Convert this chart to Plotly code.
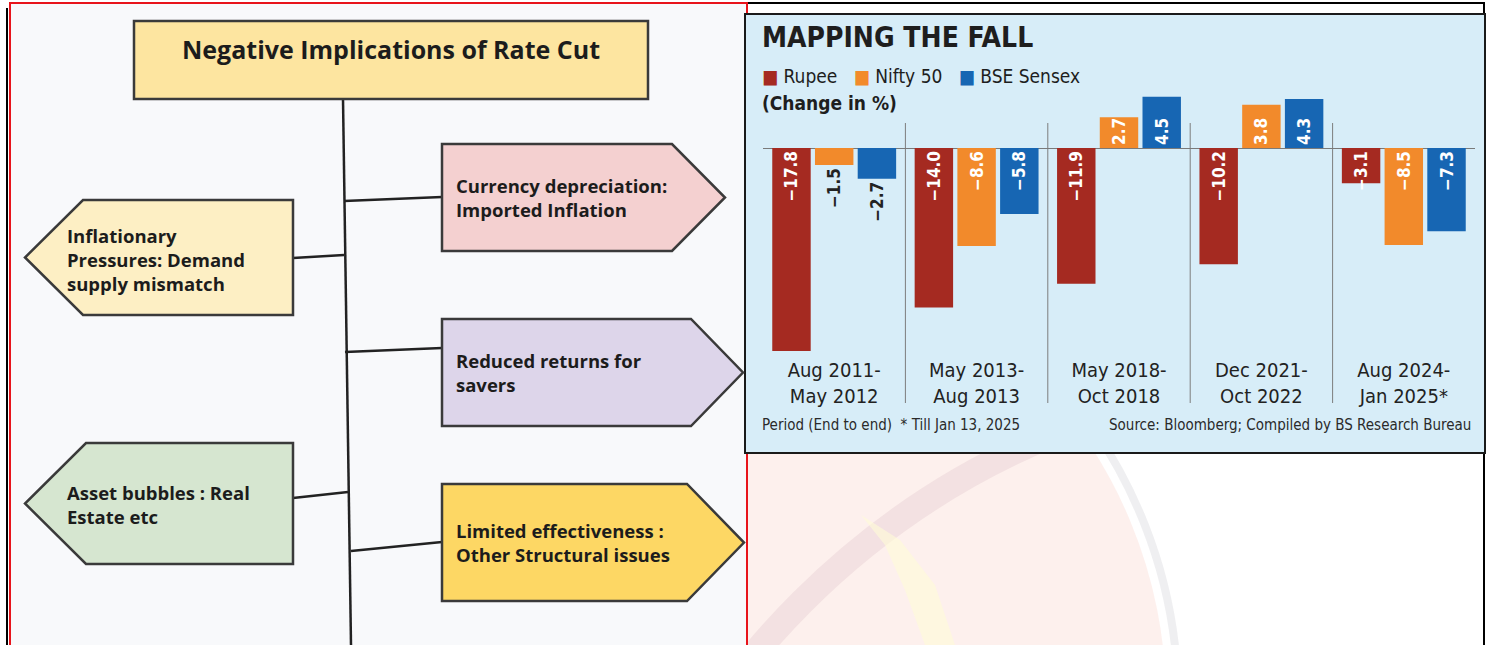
import plotly.graph_objects as go

W, H = 1492, 645

# bar chart data
periods = ["Aug 2011-<br>May 2012", "May 2013-<br>Aug 2013", "May 2018-<br>Oct 2018",
           "Dec 2021-<br>Oct 2022", "Aug 2024-<br>Jan 2025*"]
rupee = [-17.8, -14.0, -11.9, -10.2, -3.1]
nifty = [-1.5, -8.6, 2.7, 3.8, -8.5]
sensex = [-2.7, -5.8, 4.5, 4.3, -7.3]
series_names = ["Rupee", "Nifty 50", "BSE Sensex"]

chart_title = "MAPPING THE FALL"
unit_note = "(Change in %)"
footer_left = "Period (End to end)  * Till Jan 13, 2025"
source_note = "Source: Bloomberg; Compiled by BS Research Bureau"

# flowchart texts
flow_title = "Negative Implications of Rate Cut"
flow_right = ["Currency depreciation:<br>Imported Inflation",
              "Reduced returns for<br>savers",
              "Limited effectiveness :<br>Other Structural issues"]
flow_left = ["Inflationary<br>Pressures: Demand<br>supply mismatch",
             "Asset bubbles : Real<br>Estate etc"]

# styles
colors = ["#a52a21", "#f28a2b", "#1766b3"]
text_pos = [["inside"] * 5,
            ["outside", "inside", "inside", "inside", "inside"],
            ["outside", "inside", "inside", "inside", "inside"]]
NARROW = "Liberation Sans Narrow, DejaVu Sans Condensed, sans-serif"
ROUND = "Open Sans, Noto Sans, Lato, sans-serif"
right_fills = ["#f4d0d0", "#ddd5ea", "#fdd764"]
left_fills = ["#fdefc4", "#d6e6d0"]
EDGE = "#3a3a3a"


def px(x):
    return x / W


def py(y):
    return 1 - y / H


def path(pts):
    return "M " + " L ".join(f"{px(x):.5f},{py(y):.5f}" for x, y in pts) + " Z"


def circle(cx, cy, r, **kw):
    return dict(type="circle", xref="paper", yref="paper", x0=px(cx - r), x1=px(cx + r),
                y0=py(cy + r), y1=py(cy - r), layer="below", **kw)


fig = go.Figure()
for vals, name, col, tp in zip([rupee, nifty, sensex], series_names, colors, text_pos):
    fig.add_trace(go.Bar(
        x=periods, y=vals, name=name, marker_color=col, marker_line_width=0,
        text=[f"{v:.1f}".replace("-", "\u2212") for v in vals], textposition=tp, textangle=-90,
        insidetextanchor="start", constraintext="none", cliponaxis=False,
        insidetextfont=dict(family=NARROW, size=17, color="white", weight="bold"),
        outsidetextfont=dict(family=NARROW, size=17, color="#222222", weight="bold"),
        hoverinfo="x+y+name", showlegend=False))

shapes = []
# faint watermark behind the lower right area
shapes.append(dict(type="rect", xref="paper", yref="paper", x0=px(745), x1=px(1484), y0=-0.01, y1=py(3),
                   fillcolor="white", line=dict(color="black", width=2), layer="below"))
shapes.append(circle(700, 700, 478, fillcolor="rgba(255,255,255,0)", line=dict(color="rgba(235,235,238,0.8)", width=8)))
shapes.append(circle(700, 700, 466, fillcolor="rgba(240,150,130,0.14)", line=dict(width=0)))
shapes.append(circle(1350, 1150, 775, fillcolor="rgba(0,0,0,0)", line=dict(color="rgba(190,150,170,0.16)", width=26)))
shapes.append(dict(type="path", xref="paper", yref="paper",
                   path=path([(861, 515), (900, 540), (935, 585), (955, 645), (925, 645), (905, 590), (885, 545)]),
                   fillcolor="rgba(255,252,215,0.6)", line=dict(width=0), layer="below"))
shapes.append(dict(type="rect", xref="paper", yref="paper", x0=px(1485), x1=1.01, y0=-0.01, y1=1.01,
                   fillcolor="white", line=dict(width=0), layer="below"))
# left panel background and frames
shapes.append(dict(type="rect", xref="paper", yref="paper", x0=px(10), x1=px(747), y0=-0.01, y1=py(3),
                   fillcolor="#f8f9fb", line=dict(color="#e8141b", width=2), layer="below"))
shapes.append(dict(type="line", xref="paper", yref="paper", x0=px(7), x1=px(7), y0=0, y1=py(8),
                   line=dict(color="black", width=2), layer="below"))
shapes.append(dict(type="line", xref="paper", yref="paper", x0=px(1484), x1=px(1484), y0=-0.01, y1=py(3),
                   line=dict(color="black", width=2), layer="below"))
# chart panel
shapes.append(dict(type="rect", xref="paper", yref="paper", x0=px(745), x1=px(1485), y0=py(453), y1=py(14),
                   fillcolor="#d7edf8", line=dict(color="#1a1a1a", width=2), layer="below"))
# separators between periods
for k in range(1, len(periods)):
    shapes.append(dict(type="line", xref="x", yref="paper", x0=k - 0.5, x1=k - 0.5,
                       y0=py(403), y1=py(123), line=dict(color="#7d7d7d", width=1), layer="below"))

# flowchart: trunk and connectors
shapes.append(dict(type="line", xref="paper", yref="paper", x0=px(343), y0=py(99), x1=px(351), y1=0,
                   line=dict(color="#222", width=2.5)))
for (x0, y0, x1, y1) in [(344, 201, 442, 197), (293, 258, 344, 255), (345, 352, 442, 348),
                         (293, 498, 348, 492), (351, 551, 442, 542)]:
    shapes.append(dict(type="line", xref="paper", yref="paper", x0=px(x0), y0=py(y0), x1=px(x1), y1=py(y1),
                       line=dict(color="#222", width=2.5)))
# top box
shapes.append(dict(type="rect", xref="paper", yref="paper", x0=px(134), x1=px(648), y0=py(99), y1=py(21),
                   fillcolor="#fde5a0", line=dict(color=EDGE, width=2.5)))
# right arrow boxes (left, top, bottom, slant start, tip)
right_boxes = [(442, 144, 251, 672, 725), (442, 319, 426, 691, 743), (442, 484, 601, 687, 744)]
for (l, t, b, s, tip), fc in zip(right_boxes, right_fills):
    shapes.append(dict(type="path", xref="paper", yref="paper",
                       path=path([(l, t), (s, t), (tip, (t + b) / 2), (s, b), (l, b)]),
                       fillcolor=fc, line=dict(color=EDGE, width=2.5)))
# left arrow boxes (tip, top, bottom, corner, right)
left_boxes = [(25, 200, 315, 83, 293), (25, 443, 564, 86, 293)]
for (tip, t, b, c, r), fc in zip(left_boxes, left_fills):
    shapes.append(dict(type="path", xref="paper", yref="paper",
                       path=path([(r, t), (c, t), (tip, (t + b) / 2), (c, b), (r, b)]),
                       fillcolor=fc, line=dict(color=EDGE, width=2.5)))


def note(x, y, text, size, family, color="#1c1c1c", xanchor="left"):
    return dict(xref="paper", yref="paper", x=px(x), y=py(y), text=text, showarrow=False,
                xanchor=xanchor, yanchor="middle", align="left",
                font=dict(family=family, size=size, color=color))


annotations = [note(391, 49, f"<b>{flow_title}</b>", 25, ROUND, xanchor="center")]
for txt, yc in zip(flow_right, [197, 372, 542]):
    annotations.append(note(454, yc, f"<b>{txt}</b>", 18.5, ROUND))
for txt, yc in zip(flow_left, [259, 504]):
    annotations.append(note(65, yc, f"<b>{txt}</b>", 18.5, ROUND))

# chart texts
legend_txt = "   ".join(f"<span style='color:{c}'>■</span> {n}" for c, n in zip(colors, series_names))
annotations.append(note(760, 38, f"<b>{chart_title}</b>", 28, NARROW, "#1e1e1e"))
annotations.append(note(760, 76, legend_txt, 19, NARROW, "#1e1e1e"))
annotations.append(note(760, 103, f"<b>{unit_note}</b>", 19, NARROW, "#1e1e1e"))
annotations.append(note(760, 425, footer_left, 15, NARROW, "#2a2a2a"))
annotations.append(note(1473, 425, source_note, 15, NARROW, "#2a2a2a", xanchor="right"))

fig.update_layout(
    width=W, height=H, autosize=False,
    margin=dict(l=0, r=0, t=0, b=0),
    paper_bgcolor="white", plot_bgcolor="rgba(0,0,0,0)",
    barmode="group", bargap=0.1, bargroupgap=0.1,
    shapes=shapes, annotations=annotations,
    showlegend=False,
    xaxis=dict(domain=[px(763), px(1475)], type="category", showgrid=False, showline=False,
               ticks="", tickfont=dict(family=NARROW, size=20, color="#222222"), ticklabelstandoff=2),
    yaxis=dict(domain=[py(354), py(90)], range=[-(354 - 148) / 11.4, (148 - 90) / 11.4],
               showgrid=False, showticklabels=False, zeroline=True, zerolinecolor="#7a7a7a",
               zerolinewidth=1),
)

fig.write_html("out.html", config={"displayModeBar": False},
               post_script="document.body.style.margin='0';")
